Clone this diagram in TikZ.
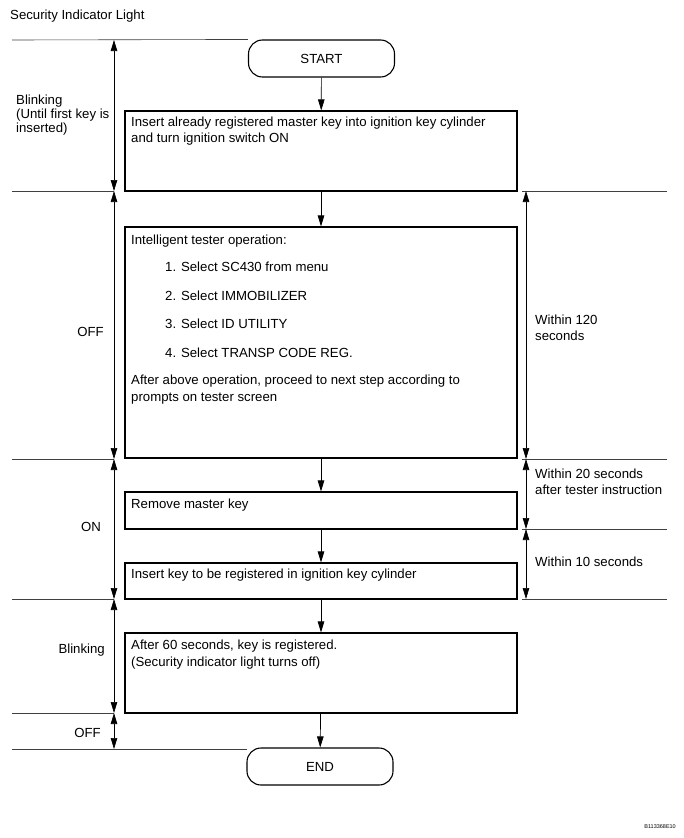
\documentclass[tikz,border=0pt]{standalone}
\usepackage{fontspec}
\setmainfont{Liberation Sans}
\usetikzlibrary{arrows.meta}
\begin{document}
\begin{tikzpicture}[x=1pt,y=-1pt,
  every node/.style={font=\fontsize{13.2}{16}\selectfont, inner sep=0pt},
  box/.style={draw, line width=1.1pt, minimum width=392pt},
  term/.style={draw, line width=1.1pt, rounded corners=14pt, minimum width=146pt, minimum height=37pt},
  txt/.style={anchor=base west},
  lab/.style={anchor=base east},
  flow/.style={line width=0.7pt, -{Triangle[length=11pt,width=6.5pt]}},
  span/.style={line width=0.7pt, {Triangle[length=11pt,width=6.5pt]}-{Triangle[length=11pt,width=6.5pt]}},
  sep/.style={line width=0.6pt, black!75}
]
\useasboundingbox (0,0) rectangle (683,838);

% title
\node[txt] (title) at (10,19) {Security Indicator Light};

% flow nodes
\node[term] (start) at (321.5,58.5) {START};
\node[box, minimum height=80pt] (b1) at (321,151) {};
\node[box, minimum height=231pt] (b2) at (321,342.5) {};
\node[box, minimum height=37pt] (b3) at (321,510.5) {};
\node[box, minimum height=36pt] (b4) at (321,581) {};
\node[box, minimum height=80pt] (b5) at (321,673) {};
\node[term] (end) at (320,766.5) {END};

% box texts
\node[txt] (t1a) at (131,126) {Insert already registered master key into ignition key cylinder};
\node[txt] (t1b) at (131,142.5) {and turn ignition switch ON};
\node[txt] (t2a) at (131,244) {Intelligent tester operation:};
\node[txt] (t2b) at (165,271.5) {1. Select SC430 from menu};
\node[txt] (t2c) at (165,300) {2. Select IMMOBILIZER};
\node[txt] (t2d) at (165,328.5) {3. Select ID UTILITY};
\node[txt] (t2e) at (165,357) {4. Select TRANSP CODE REG.};
\node[txt] (t2f) at (131,384.5) {After above operation, proceed to next step according to};
\node[txt] (t2g) at (131,401) {prompts on tester screen};
\node[txt] (t3) at (131,508) {Remove master key};
\node[txt] (t4) at (131,578) {Insert key to be registered in ignition key cylinder};
\node[txt] (t5a) at (131,649.5) {After 60 seconds, key is registered.};
\node[txt] (t5b) at (131,666.5) {(Security indicator light turns off)};

% flow arrows
\draw[flow] (start) -- (b1);
\draw[flow] (b1) -- (b2);
\draw[flow] (b2) -- (b3);
\draw[flow] (b3) -- (b4);
\draw[flow] (b4) -- (b5);
\draw[flow] (b5) -- (end);

% left scale coordinates
\coordinate (L0) at (114,40);
\coordinate (L1) at (114,191);
\coordinate (L2) at (114,459);
\coordinate (L3) at (114,599);
\coordinate (L4) at (114,713);
\coordinate (L5) at (114,749);
\coordinate (S0) at (12,40);
\coordinate (S1) at (12,191);
\coordinate (S2) at (12,459);
\coordinate (S3) at (12,599);
\coordinate (S4) at (12,713);
\coordinate (S5) at (12,749);
\coordinate (E5) at (247,749);

\draw[sep] (S0) -- (start.north west);
\draw[sep] (S1) -- (L1);
\draw[sep] (S2) -- (L2);
\draw[sep] (S3) -- (L3);
\draw[sep] (S4) -- (L4);
\draw[sep] (S5) -- (E5);

\draw[span] (L0) -- (L1);
\draw[span] (L1) -- (L2);
\draw[span] (L2) -- (L3);
\draw[span] (L3) -- (L4);
\draw[span] (L4) -- (L5);

% right scale
\coordinate (R1) at (526,191);
\coordinate (R2) at (526,459);
\coordinate (R3) at (526,529);
\coordinate (R4) at (526,599);
\coordinate (Q1) at (522,191);
\coordinate (Q2) at (522,459);
\coordinate (Q3) at (522,529);
\coordinate (Q4) at (522,599);
\coordinate (P1) at (667,191);
\coordinate (P2) at (667,459);
\coordinate (P3) at (667,529);
\coordinate (P4) at (667,599);
\draw[sep] (Q1) -- (P1);
\draw[sep] (Q2) -- (P2);
\draw[sep] (Q3) -- (P3);
\draw[sep] (Q4) -- (P4);
\draw[span] (R1) -- (R2);
\draw[span] (R2) -- (R3);
\draw[span] (R3) -- (R4);

% left labels
\node[txt] (l1a) at (16,104.5) {Blinking};
\node[txt] (l1b) at (16,118.5) {(Until first key is};
\node[txt] (l1c) at (16,132.5) {inserted)};
\node[lab] (l2) at (104,336.5) {OFF};
\node[lab] (l3) at (101,531.5) {ON};
\node[lab] (l4) at (105,653.5) {Blinking};
\node[lab] (l5) at (101,737) {OFF};

% right labels
\node[txt] (r1a) at (535,324.5) {Within 120};
\node[txt] (r1b) at (535,340.5) {seconds};
\node[txt] (r2a) at (535,478.5) {Within 20 seconds};
\node[txt] (r2b) at (535,494.5) {after tester instruction};
\node[txt] (r3) at (535,566.5) {Within 10 seconds};

% figure code
\node[anchor=east, font=\fontsize{5.5}{6}\selectfont] (code) at (676,827) {B113368E10};
\end{tikzpicture}
\end{document}
